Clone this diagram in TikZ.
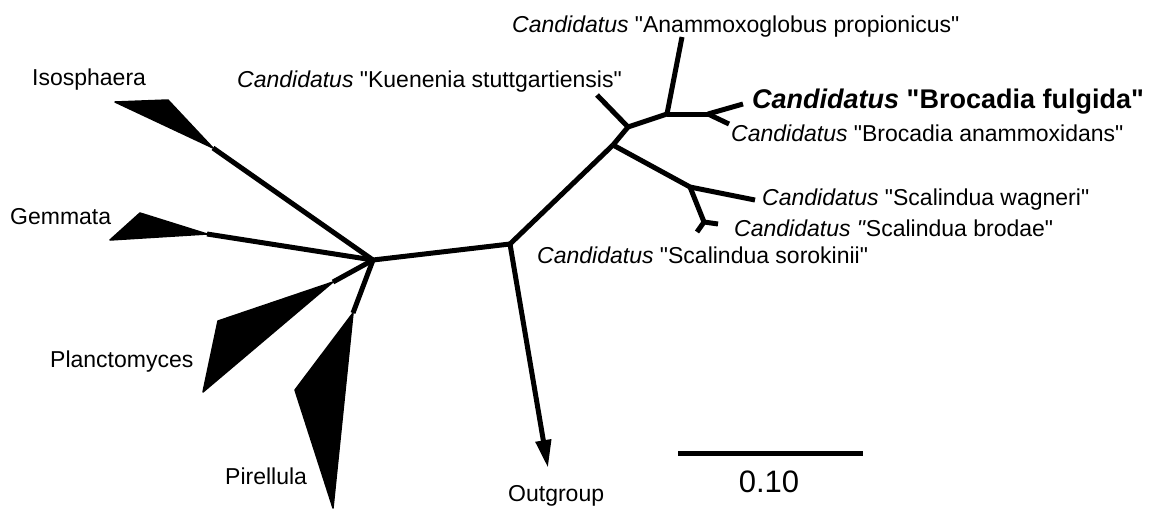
\documentclass[tikz,border=0pt]{standalone}
\usepackage{fontspec}
\setmainfont{Liberation Sans}[Ligatures=TeXOff]
\usetikzlibrary{arrows.meta}
\begin{document}
\begin{tikzpicture}[x=1pt,y=-1pt,
  branch/.style={line width=5pt,line cap=butt,line join=round},
  clade/.style={fill=black,draw=black,line width=1.5pt,line join=round},
  lab/.style={anchor=base west,inner sep=0pt,font=\fontsize{23}{26}\selectfont},
  boldlab/.style={anchor=base west,inner sep=0pt,font=\fontsize{27}{30}\selectfont\bfseries},
  scalelab/.style={anchor=base,inner sep=0pt,font=\fontsize{31}{34}\selectfont}]
\useasboundingbox (0,0) rectangle (1156,509);
% internal nodes
\coordinate (A) at (373,260);
\coordinate (B) at (510,244);
\coordinate (C) at (613,145);
\coordinate (D) at (628,127);
\coordinate (E) at (667,114);
\coordinate (F) at (708,114);
\coordinate (G) at (690,187);
\coordinate (H) at (704,222);
% tips
\coordinate (kue) at (597,95);
\coordinate (ana) at (682,37);
\coordinate (bfu) at (743,104);
\coordinate (ban) at (729,124);
\coordinate (wag) at (755,200);
\coordinate (bro) at (718,224);
\coordinate (sor) at (697,232);
\coordinate (out) at (548,468);
% clade apices
\coordinate (iso) at (213,148);
\coordinate (gem) at (207,234);
\coordinate (pla) at (333,282);
\coordinate (pir) at (353,313);
% clades
\fill[clade] (iso) -- (115,102) -- (168,100) -- cycle;
\fill[clade] (gem) -- (140,213) -- (110,240) -- cycle;
\fill[clade] (pla) -- (218,321) -- (203,392) -- cycle;
\fill[clade] (pir) -- (295,390) -- (333,508) -- cycle;
% branches
\draw[branch] (A) -- (iso);
\draw[branch] (A) -- (gem);
\draw[branch] (A) -- (pla);
\draw[branch] (A) -- (pir);
\draw[branch] (A) -- (B);
\draw[branch,-{Triangle[length=28pt,width=15pt]}] (B) -- (out);
\draw[branch] (B) -- (C);
\draw[branch] (C) -- (D);
\draw[branch] (D) -- (kue);
\draw[branch] (D) -- (E);
\draw[branch] (E) -- (ana);
\draw[branch] (E) -- (F);
\draw[branch] (F) -- (bfu);
\draw[branch] (F) -- (ban);
\draw[branch] (C) -- (G);
\draw[branch] (G) -- (wag);
\draw[branch] (G) -- (H);
\draw[branch] (H) -- (bro);
\draw[branch] (H) -- (sor);
% scale bar
\coordinate (s1) at (678,453);
\coordinate (s2) at (863,453);
\draw[line width=5pt] (s1) -- (s2);
\node[scalelab] (sl) at (769,492) {0.10};
% labels
\node[lab] (liso) at (32,85) {Isosphaera};
\node[lab] (lgem) at (10,224) {Gemmata};
\node[lab] (lpla) at (50,367) {Planctomyces};
\node[lab] (lpir) at (225,484) {Pirellula};
\node[lab] (lout) at (508,501) {Outgroup};
\node[lab] (lkue) at (237,87) {\textit{Candidatus} "Kuenenia stuttgartiensis"};
\node[lab] (lana) at (512,32) {\textit{Candidatus} "Anammoxoglobus propionicus"};
\node[boldlab] (lbfu) at (752,108) {\textit{Candidatus} "Brocadia fulgida"};
\node[lab] (lban) at (731,141) {\textit{Candidatus} "Brocadia anammoxidans"};
\node[lab] (lwag) at (762,205) {\textit{Candidatus} "Scalindua wagneri"};
\node[lab] (lbro) at (734,236) {\textit{Candidatus "}Scalindua brodae"};
\node[lab] (lsor) at (537,263) {\textit{Candidatus} "Scalindua sorokinii"};
\end{tikzpicture}
\end{document}
